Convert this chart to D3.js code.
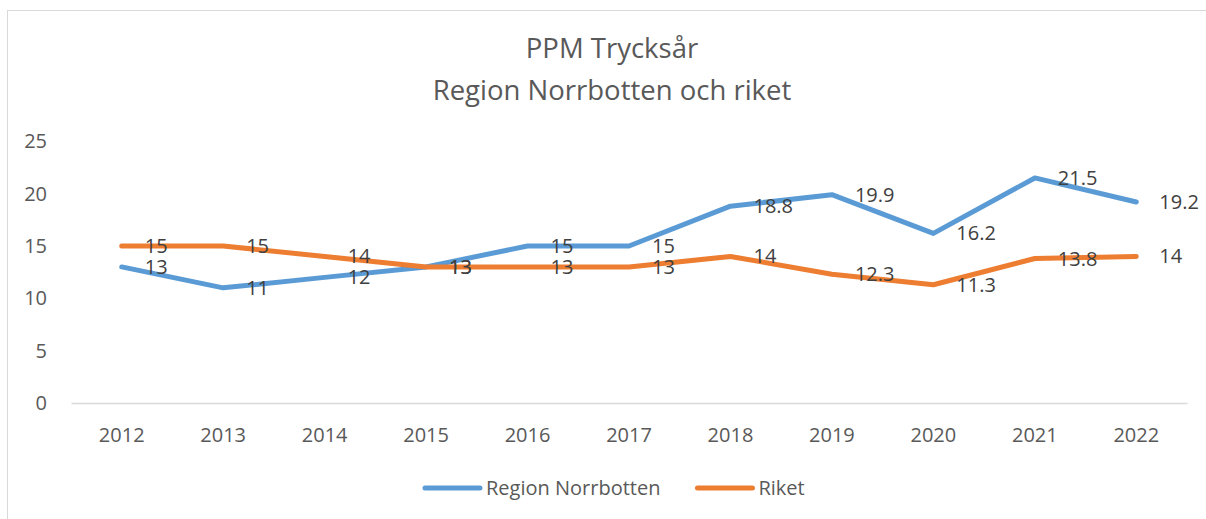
<!DOCTYPE html>
<html>
<head>
<meta charset="utf-8">
<script src="https://cdn.jsdelivr.net/npm/d3@7"></script>
<style>
  body { margin: 0; background: #fff; }
  text { font-family: "Open Sans", "Noto Sans", sans-serif; }
</style>
</head>
<body>
<div id="chart"></div>
<script>
const years = ["2012", "2013", "2014", "2015", "2016", "2017", "2018", "2019", "2020", "2021", "2022"];
const norrbotten = [13, 11, 12, 13, 15, 15, 18.8, 19.9, 16.2, 21.5, 19.2];
const riket = [15, 15, 14, 13, 13, 13, 14, 12.3, 11.3, 13.8, 14];
const yTicks = [0, 5, 10, 15, 20, 25];

const series = [
    { name: "Region Norrbotten", values: norrbotten, color: "#5b9bd5" },
    { name: "Riket", values: riket, color: "#ed7d31" }
];

const width = 1206, height = 519;

const svg = d3.select("#chart")
    .append("svg")
    .attr("width", width)
    .attr("height", height);

// ram runt diagrammet
svg.append("rect")
    .attr("x", 7.5)
    .attr("y", 10.5)
    .attr("width", 1250)
    .attr("height", 600)
    .attr("fill", "none")
    .attr("stroke", "#d9d9d9");

const x = d3.scaleBand()
    .domain(years)
    .range([71, 1187])
    .padding(0);

const y = d3.scaleLinear()
    .domain([0, 25])
    .range([403, 141.3]);

svg.append("text")
    .attr("x", 612)
    .attr("y", 58)
    .attr("text-anchor", "middle")
    .style("font-size", "27.5px")
    .attr("fill", "#595959")
    .text("PPM Trycksår");

svg.append("text")
    .attr("x", 612)
    .attr("y", 100)
    .attr("text-anchor", "middle")
    .style("font-size", "27.5px")
    .attr("fill", "#595959")
    .text("Region Norrbotten och riket");

const xAxis = svg.append("g")
    .attr("transform", `translate(0,${y(0)})`)
    .call(d3.axisBottom(x).tickSize(0).tickPadding(25));
xAxis.select(".domain").attr("stroke", "#d9d9d9").attr("stroke-width", 1.5);
xAxis.selectAll("text")
    .style("font-size", "20px")
    .attr("fill", "#595959");

const yAxis = svg.append("g")
    .attr("transform", "translate(47,0)")
    .call(d3.axisLeft(y).tickValues(yTicks).tickSize(0).tickPadding(0));
yAxis.select(".domain").remove();
yAxis.selectAll("text")
    .style("font-size", "20px")
    .attr("fill", "#595959");

const line = d3.line()
    .x((d, i) => x(years[i]) + x.bandwidth() / 2)
    .y(d => y(d));

series.forEach(s => {
    svg.append("path")
        .datum(s.values)
        .attr("fill", "none")
        .attr("stroke", s.color)
        .attr("stroke-width", 5)
        .attr("stroke-linejoin", "round")
        .attr("stroke-linecap", "round")
        .attr("d", line);
});

series.forEach(s => {
    svg.selectAll(null)
        .data(s.values)
        .enter()
        .append("text")
        .attr("x", (d, i) => x(years[i]) + x.bandwidth() / 2 + 23)
        .attr("y", d => y(d))
        .attr("dy", "0.35em")
        .style("font-size", "20px")
        .attr("fill", "#404040")
        .text(d => d);
});

// legend
const legend = svg.append("g");
let lx = 425;
series.forEach(s => {
    legend.append("line")
        .attr("x1", lx)
        .attr("x2", lx + 55)
        .attr("y1", 488)
        .attr("y2", 488)
        .attr("stroke", s.color)
        .attr("stroke-width", 5)
        .attr("stroke-linecap", "round");
    const t = legend.append("text")
        .attr("x", lx + 61)
        .attr("y", 488)
        .attr("dy", "0.35em")
        .style("font-size", "20px")
        .attr("fill", "#595959")
        .text(s.name);
    lx = lx + 61 + t.node().getComputedTextLength() + 37;
});
</script>
</body>
</html>
